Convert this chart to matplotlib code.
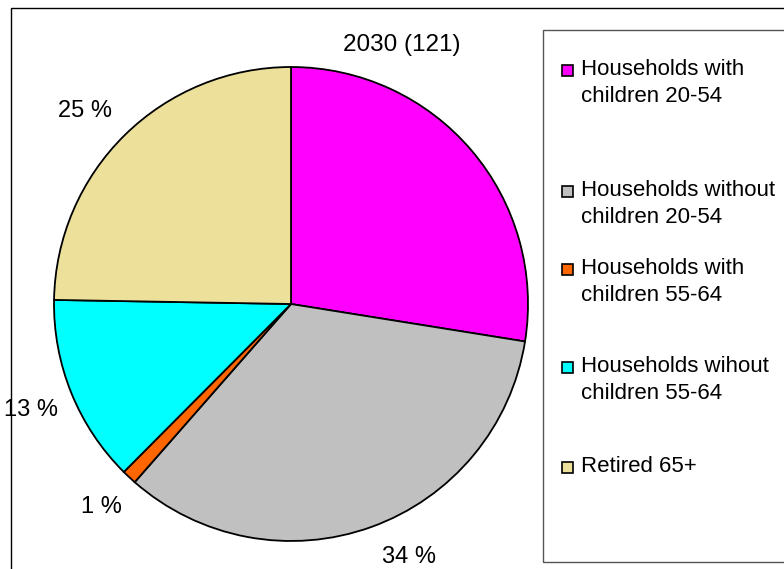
import numpy as np
import matplotlib
matplotlib.use("Agg")
import matplotlib.pyplot as plt
from matplotlib.patches import Rectangle

plt.rcParams['font.family'] = ['Liberation Sans', 'DejaVu Sans']

categories = ["Households with\nchildren 20-54",
              "Households without\nchildren 20-54",
              "Households with\nchildren 55-64",
              "Households wihout\nchildren 55-64",
              "Retired 65+"]
shares = [27.5, 33.9, 1.0, 12.8, 24.7]
pct_labels = ["", "34 %", "1 %", "13 %", "25 %"]
colors = ["#FF00FF", "#C0C0C0", "#FF6600", "#00FFFF", "#EDE09A"]
title = "2030 (121)"

W, H = 784, 569
fig = plt.figure(figsize=(W / 100, H / 100), dpi=100)

# figure frame
fig.patches.append(Rectangle((11 / W, -0.1), 1.2, 1 - 8 / H + 0.1, transform=fig.transFigure,
                             fill=False, edgecolor="black", linewidth=1.0))

cx, cy, r = 291, 304, 237
ax = fig.add_axes([(cx - r) / W, (H - cy - r) / H, 2 * r / W, 2 * r / H])
wedges, texts = ax.pie(shares, colors=colors, startangle=90, counterclock=False,
                       wedgeprops=dict(edgecolor="black", linewidth=1.3))
ax.set_xlim(-1, 1)
ax.set_ylim(-1, 1)
ax.axis("off")

# percentage labels placed outside the wedges
label_dist = [1.18, 1.177, 1.17, 1.185, 1.191]
label_shift = [0, 5.3, 0, 0, 2.3]
for w, lab, d, s in zip(wedges, pct_labels, label_dist, label_shift):
    if not lab:
        continue
    ang = np.deg2rad((w.theta1 + w.theta2) / 2 + s)
    ax.text(d * np.cos(ang), d * np.sin(ang), lab, ha="center", va="center", fontsize=17)

fig.text(402 / W, 1 - 45 / H, title, ha="center", va="center", fontsize=17.5)

# legend box
fig.patches.append(Rectangle((543 / W, 1 - 562 / H), 0.5, (562 - 30) / H, transform=fig.transFigure,
                             fill=False, edgecolor="#555555", linewidth=1.0))
entry_y = [83, 204, 282, 380, 467]
marker_y = [70, 191, 269, 367, 467]
for lab, col, ey, my in zip(categories, colors, entry_y, marker_y):
    fig.patches.append(Rectangle((562 / W, 1 - (my + 6) / H), 11 / W, 11 / H,
                                 transform=fig.transFigure, facecolor=col,
                                 edgecolor="black", linewidth=1.2))
    fig.text(581 / W, 1 - ey / H, lab, ha="left", va="center", fontsize=16,
             linespacing=1.4)

fig.savefig("out.png", dpi=100)
